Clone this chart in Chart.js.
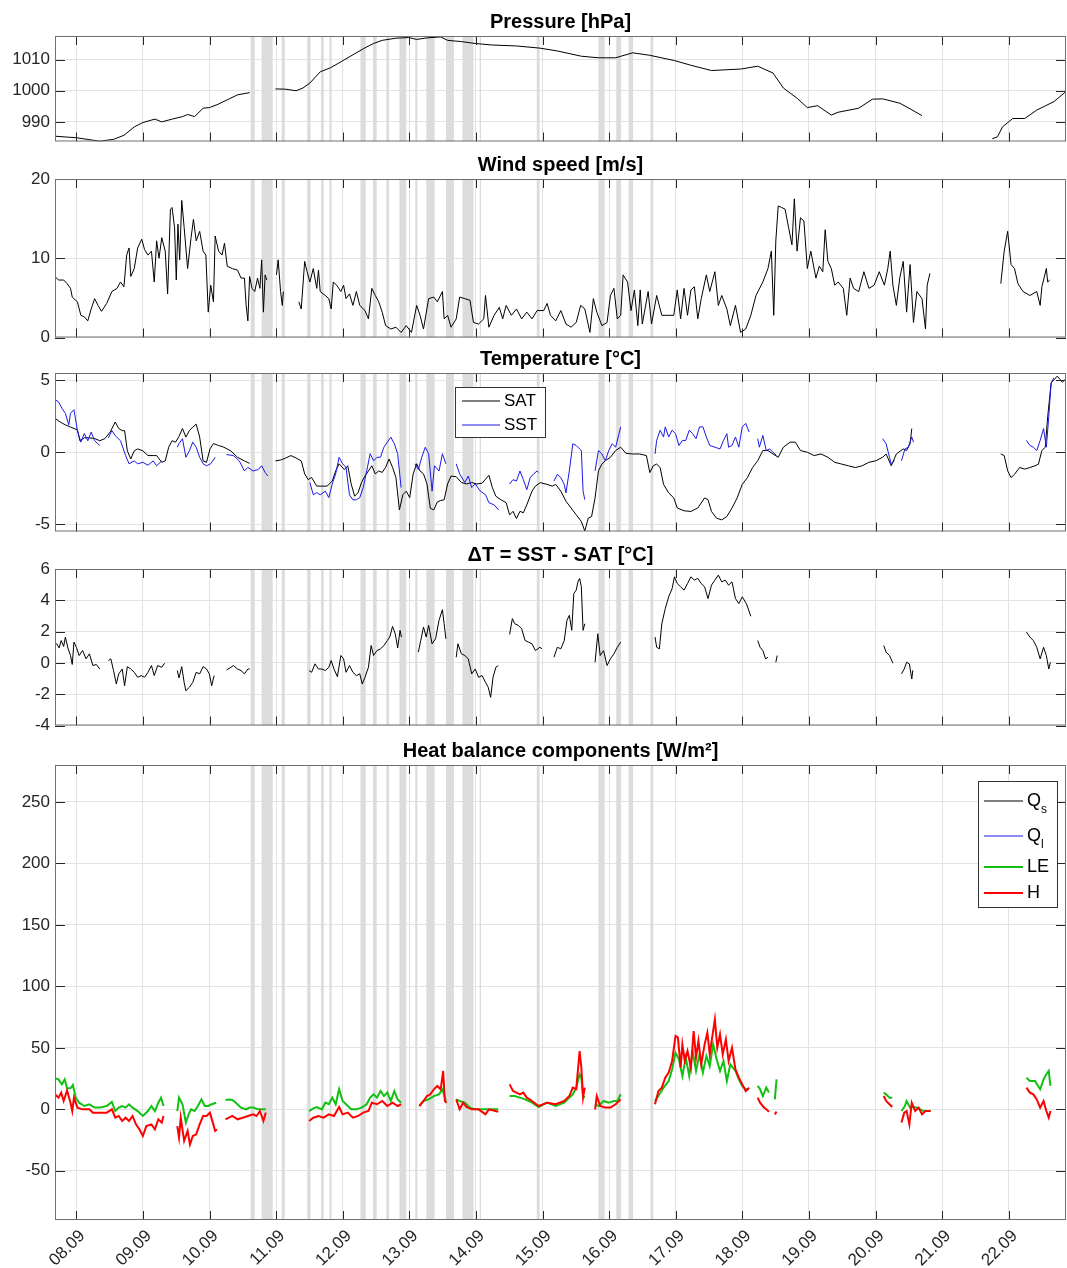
<!DOCTYPE html>
<html>
<head>
<meta charset="utf-8">
<script src="https://cdn.jsdelivr.net/npm/chart.js@4.4.1/dist/chart.umd.min.js"></script>
<style>
  body { margin: 0; background: #fff; width: 1067px; height: 1268px; position: relative; overflow: hidden; }
  canvas { position: absolute; left: 0; }
</style>
</head>
<body>
<canvas id="pressureChart"></canvas>
<canvas id="windChart"></canvas>
<canvas id="tempChart"></canvas>
<canvas id="deltaChart"></canvas>
<canvas id="heatChart"></canvas>
<script>
// time axis: days since 08.09 00:00
var dayLabels = ['08.09','09.09','10.09','11.09','12.09','13.09','14.09','15.09','16.09','17.09','18.09','19.09','20.09','21.09','22.09'];
var xMin = -0.321, xMax = 14.859;

// grey periods [start, end] in days
var bands = [[2.617,2.679],[2.782,2.947],[3.083,3.129],[3.465,3.517],[3.673,3.713],[3.8,3.832],[4.266,4.344],[4.453,4.509],[4.655,4.695],[4.85,4.953],[5.089,5.12],[5.254,5.378],[5.55,5.668],[5.797,5.962],[6.056,6.075],[6.913,6.955],[7.839,7.932],[8.106,8.179],[8.291,8.359],[8.62,8.662]];

var pressureTicks = [990, 1000, 1010];
var windTicks = [0, 10, 20];
var tempTicks = [-5, 0, 5];
var deltaTicks = [-4, -2, 0, 2, 4, 6];
var heatTicks = [-50, 0, 50, 100, 150, 200, 250];

var pressure = [[-0.32,985.4],[0,984.9],[0.35,983.8],[0.56,984.4],[0.715,985.7],[0.87,988.4],[1.0,989.8],[1.18,990.9],[1.28,990.0],[1.44,990.9],[1.593,991.7],[1.671,992.4],[1.774,991.7],[1.904,994.4],[1.997,994.6],[2.11,995.5],[2.266,997.1],[2.421,998.7],[2.602,999.4],[2.8,null],[2.99,1000.6],[3.145,1000.5],[3.3,1000.0],[3.403,1000.9],[3.507,1002.5],[3.662,1006.1],[3.817,1007.4],[3.987,1009.5],[4.179,1011.9],[4.334,1013.8],[4.463,1015.2],[4.592,1016.2],[4.799,1016.9],[4.99,1017.1],[5.11,1016.5],[5.265,1017.0],[5.471,1017.3],[5.575,1016.2],[5.782,1015.8],[5.988,1015.2],[6.247,1014.7],[6.609,1014.4],[6.96,1013.7],[7.22,1012.8],[7.582,1011.1],[7.839,1010.6],[8.096,1010.6],[8.353,1012.2],[8.61,1011.4],[8.98,1009.7],[9.227,1008.2],[9.536,1006.5],[9.983,1007.0],[10.23,1007.9],[10.46,1005.7],[10.615,1000.9],[10.821,997.6],[10.975,994.6],[11.13,995.2],[11.335,992.2],[11.438,993.1],[11.747,994.4],[11.952,997.3],[12.107,997.4],[12.364,996.0],[12.518,994.2],[12.698,992.0],[13.2,null],[13.752,984.6],[13.83,985.2],[13.906,988.4],[14.06,991.1],[14.24,991.1],[14.42,993.8],[14.677,996.5],[14.873,1000.0]];

var windSpeed = [[-0.321,7.7],[-0.269,7.25],[-0.191,7.25],[-0.14,6.8],[-0.088,6.2],[-0.062,5.1],[0.016,4.5],[0.067,2.8],[0.119,2.6],[0.171,2.1],[0.222,3.6],[0.274,4.9],[0.326,4.05],[0.377,3.3],[0.455,4.3],[0.533,5.8],[0.61,6.2],[0.662,7.0],[0.714,6.4],[0.755,10.4],[0.791,11.3],[0.817,7.7],[0.869,8.7],[0.92,11.3],[0.982,12.4],[1.024,11.1],[1.075,10.4],[1.127,10.9],[1.169,7.0],[1.205,12.2],[1.241,10.0],[1.282,12.6],[1.334,10.9],[1.37,5.5],[1.412,16.2],[1.437,16.4],[1.474,13.9],[1.5,7.25],[1.525,14.3],[1.551,9.8],[1.582,17.3],[1.618,13.9],[1.67,8.7],[1.722,12.6],[1.758,14.9],[1.799,12.2],[1.851,13.4],[1.903,10.9],[1.944,10.4],[1.98,3.2],[2.017,6.6],[2.058,4.5],[2.084,12.8],[2.135,10.9],[2.187,10.4],[2.224,11.9],[2.265,9.0],[2.342,8.7],[2.42,8.5],[2.472,7.5],[2.523,7.5],[2.549,4.05],[2.575,2.1],[2.601,7.7],[2.637,6.2],[2.678,5.8],[2.72,7.5],[2.756,6.2],[2.782,9.8],[2.808,3.2],[2.834,7.9],[2.859,7.25],[2.93,null],[3.004,7.9],[3.03,9.8],[3.066,5.8],[3.092,4.05],[3.108,5.8],[3.2,null],[3.34,4.5],[3.376,3.6],[3.428,9.6],[3.464,8.3],[3.506,7.0],[3.557,8.7],[3.609,6.2],[3.635,8.5],[3.661,5.8],[3.738,5.3],[3.79,4.9],[3.826,3.6],[3.857,7.0],[3.909,6.6],[3.971,5.8],[4.012,6.6],[4.049,4.9],[4.1,5.5],[4.152,4.05],[4.204,5.8],[4.255,4.05],[4.333,3.4],[4.385,2.35],[4.436,6.2],[4.488,5.3],[4.54,4.5],[4.592,3.2],[4.643,1.5],[4.721,1.07],[4.798,1.3],[4.876,0.64],[4.953,1.5],[5.031,0.64],[5.109,4.05],[5.16,2.8],[5.212,1.07],[5.289,4.9],[5.367,5.1],[5.419,4.5],[5.496,5.8],[5.522,2.35],[5.574,2.8],[5.626,1.3],[5.703,2.35],[5.755,5.1],[5.833,4.9],[5.91,4.7],[5.962,1.9],[6.039,1.7],[6.117,2.35],[6.143,5.3],[6.194,1.3],[6.272,2.8],[6.35,3.8],[6.401,2.35],[6.453,4.05],[6.531,2.8],[6.608,3.6],[6.686,2.35],[6.763,3.2],[6.841,2.35],[6.918,3.4],[7.017,3.4],[7.068,4.3],[7.119,2.8],[7.197,2.1],[7.274,3.4],[7.351,1.7],[7.428,1.3],[7.505,1.9],[7.572,4.05],[7.634,3.6],[7.711,0.64],[7.762,4.9],[7.814,3.2],[7.891,1.5],[7.968,1.9],[8.019,5.3],[8.071,6.2],[8.122,2.35],[8.173,2.8],[8.209,7.9],[8.276,7.0],[8.328,3.4],[8.379,6.0],[8.43,1.5],[8.466,6.0],[8.497,1.7],[8.585,5.8],[8.636,1.7],[8.713,5.3],[8.79,2.8],[8.867,2.8],[8.97,2.8],[9.022,6.0],[9.073,2.35],[9.124,6.2],[9.176,2.8],[9.227,6.0],[9.279,6.4],[9.33,2.35],[9.382,4.9],[9.459,7.9],[9.51,5.8],[9.587,8.3],[9.639,4.05],[9.69,5.3],[9.767,3.6],[9.819,1.5],[9.896,4.05],[9.973,0.64],[10.05,1.07],[10.127,2.8],[10.204,5.3],[10.307,7.0],[10.384,8.7],[10.435,10.9],[10.471,2.8],[10.502,12.2],[10.538,16.6],[10.59,16.4],[10.641,16.2],[10.693,13.9],[10.744,11.7],[10.78,17.5],[10.821,10.9],[10.872,15.1],[10.924,14.7],[10.975,8.7],[11.027,10.9],[11.104,7.5],[11.155,9.0],[11.207,8.3],[11.243,13.6],[11.284,9.6],[11.335,8.7],[11.387,6.6],[11.438,7.0],[11.515,6.2],[11.567,2.8],[11.618,7.5],[11.669,6.2],[11.747,5.8],[11.824,8.3],[11.9,6.2],[11.978,6.6],[12.055,8.3],[12.132,6.6],[12.183,8.7],[12.219,10.9],[12.26,6.6],[12.312,4.05],[12.363,7.5],[12.415,9.6],[12.466,3.2],[12.518,9.2],[12.569,1.9],[12.62,5.8],[12.697,4.9],[12.749,1.07],[12.775,6.6],[12.816,8.1],[13.3,null],[13.88,6.8],[13.931,10.9],[13.983,13.4],[14.034,9.2],[14.086,8.7],[14.137,6.8],[14.214,5.8],[14.317,5.3],[14.42,5.8],[14.471,4.05],[14.497,6.4],[14.564,8.7],[14.584,7.0],[14.615,7.25]];

var sat = [[-0.321,2.35],[-0.243,2.1],[-0.165,1.9],[-0.088,1.75],[-0.036,1.65],[0.016,1.55],[0.052,0.8],[0.119,1.0],[0.196,1.0],[0.274,0.95],[0.352,0.8],[0.429,0.95],[0.507,1.4],[0.584,2.1],[0.636,1.65],[0.688,1.5],[0.724,1.5],[0.765,0.1],[0.817,-0.47],[0.869,0.1],[0.92,0.23],[0.998,0.1],[1.075,-0.23],[1.153,-0.23],[1.205,-0.23],[1.282,-0.7],[1.334,-0.6],[1.386,0.35],[1.437,0.8],[1.489,0.7],[1.541,1.1],[1.593,1.65],[1.644,1.05],[1.696,1.5],[1.748,1.75],[1.799,1.95],[1.851,1.05],[1.903,-0.6],[1.954,-0.7],[2.006,0.23],[2.058,0.6],[2.135,0.47],[2.213,0.35],[2.316,0.1],[2.42,-0.35],[2.523,-0.6],[2.601,-0.77],[2.8,null],[2.989,-0.6],[3.066,-0.54],[3.144,-0.4],[3.221,-0.23],[3.299,-0.4],[3.376,-0.6],[3.428,-1.5],[3.48,-1.9],[3.532,-1.75],[3.609,-2.35],[3.687,-2.35],[3.764,-2.35],[3.842,-2.0],[3.893,-1.3],[3.945,-0.8],[4.023,-1.2],[4.075,-0.94],[4.126,-2.2],[4.178,-3.05],[4.23,-2.8],[4.281,-2.1],[4.333,-1.65],[4.385,-1.3],[4.436,-0.94],[4.488,-1.5],[4.54,-1.3],[4.592,-1.4],[4.643,-1.05],[4.695,-0.47],[4.747,-1.05],[4.798,-1.75],[4.85,-4.0],[4.902,-2.95],[4.953,-2.7],[5.005,-3.15],[5.057,-1.5],[5.109,-0.8],[5.16,-1.3],[5.212,-1.5],[5.264,-2.2],[5.315,-3.9],[5.367,-4.0],[5.419,-3.45],[5.47,-3.35],[5.522,-3.3],[5.574,-2.2],[5.626,-1.65],[5.703,-1.7],[5.781,-2.1],[5.858,-2.2],[5.936,-2.1],[6.013,-2.2],[6.091,-2.15],[6.194,-1.6],[6.246,-2.45],[6.298,-3.05],[6.375,-3.3],[6.453,-3.5],[6.505,-4.35],[6.556,-4.1],[6.608,-4.6],[6.66,-4.1],[6.711,-4.2],[6.763,-3.65],[6.841,-2.7],[6.892,-2.35],[6.965,-2.11],[7.068,-2.23],[7.145,-2.35],[7.197,-2.23],[7.274,-2.7],[7.351,-3.4],[7.428,-3.87],[7.505,-4.34],[7.582,-4.81],[7.634,-5.47],[7.685,-4.58],[7.736,-4.46],[7.788,-3.17],[7.839,-1.29],[7.891,-0.82],[7.942,-0.59],[8.019,-0.35],[8.096,0.12],[8.173,0.35],[8.25,-0.07],[8.353,-0.12],[8.456,-0.12],[8.559,-0.23],[8.61,-1.41],[8.662,-0.94],[8.713,-0.82],[8.765,-1.06],[8.816,-2.23],[8.893,-2.82],[8.97,-3.17],[9.022,-3.87],[9.124,-4.06],[9.227,-4.11],[9.33,-3.87],[9.433,-3.17],[9.484,-3.29],[9.536,-4.11],[9.613,-4.58],[9.69,-4.69],[9.767,-4.46],[9.844,-3.87],[9.921,-3.17],[9.998,-2.23],[10.076,-1.76],[10.153,-1.06],[10.23,-0.59],[10.307,0.12],[10.384,0.12],[10.461,-0.12],[10.538,-0.35],[10.615,0.35],[10.718,0.7],[10.795,0.7],[10.872,0.12],[10.975,0],[11.078,-0.23],[11.181,-0.12],[11.284,-0.35],[11.387,-0.7],[11.489,-0.82],[11.592,-0.94],[11.695,-1.06],[11.798,-0.94],[11.9,-0.7],[12.003,-0.59],[12.106,-0.35],[12.158,-0.12],[12.235,-0.94],[12.312,-0.12],[12.415,0.23],[12.466,0.12],[12.518,0.59],[12.543,1.64],[13.2,null],[13.88,-0.12],[13.931,-0.23],[13.983,-1.29],[14.034,-1.76],[14.086,-1.53],[14.163,-1.06],[14.24,-1.17],[14.317,-1.06],[14.394,-0.94],[14.445,-0.82],[14.497,0.12],[14.548,0.35],[14.584,2.46],[14.636,4.81],[14.728,5.28],[14.805,4.86],[14.872,5.16]];

var sst = [[-0.321,3.65],[-0.269,3.5],[-0.217,3.05],[-0.165,2.7],[-0.114,1.9],[-0.088,2.7],[-0.036,2.95],[0.016,1.5],[0.067,0.7],[0.119,1.3],[0.171,0.8],[0.222,1.4],[0.274,0.8],[0.352,0.47],[0.42,null],[0.481,1.0],[0.533,1.5],[0.584,1.15],[0.662,0.8],[0.739,-0.23],[0.791,-0.8],[0.869,-0.6],[0.92,-0.8],[0.998,-0.7],[1.075,-0.9],[1.153,-0.6],[1.205,-0.94],[1.282,-0.6],[1.4,null],[1.515,0.35],[1.541,0.6],[1.593,0.94],[1.644,-0.35],[1.696,0.1],[1.748,0.7],[1.799,0.35],[1.851,-0.35],[1.903,-0.8],[1.954,-0.94],[2.017,-0.8],[2.084,-0.35],[2.17,null],[2.254,-0.16],[2.358,-0.23],[2.446,-0.6],[2.523,-1.3],[2.575,-1.05],[2.653,-1.3],[2.73,-1.2],[2.782,-0.94],[2.834,-1.4],[2.875,-1.65],[3.2,null],[3.506,-2.1],[3.557,-2.95],[3.609,-2.8],[3.661,-2.95],[3.738,-2.7],[3.79,-3.15],[3.842,-2.2],[3.893,-1.5],[3.945,-0.35],[3.997,-0.8],[4.049,-1.05],[4.1,-2.95],[4.152,-3.3],[4.204,-3.3],[4.255,-3.15],[4.307,-2.45],[4.359,-1.3],[4.411,-0.1],[4.462,-0.6],[4.514,-0.35],[4.566,-0.35],[4.617,0.35],[4.669,0.7],[4.721,1.05],[4.773,0.6],[4.824,-0.1],[4.876,-2.45],[4.98,null],[5.083,-0.8],[5.134,-1.2],[5.186,-0.35],[5.238,0.35],[5.289,-0.1],[5.341,-2.7],[5.377,-0.94],[5.445,-1.3],[5.496,-0.1],[5.548,-0.8],[5.64,null],[5.703,-0.8],[5.755,-1.5],[5.833,-2.1],[5.884,-1.65],[5.936,-2.45],[5.988,-2.2],[6.065,-2.7],[6.143,-2.95],[6.194,-3.5],[6.272,-3.65],[6.339,-4.0],[6.42,null],[6.505,-2.2],[6.556,-1.9],[6.608,-2.0],[6.66,-1.3],[6.711,-1.9],[6.763,-2.6],[6.815,-1.75],[6.866,-1.5],[6.918,-1.3],[6.94,-1.4],[6.99,null],[7.171,-2.0],[7.222,-1.53],[7.274,-1.76],[7.325,-2.23],[7.351,-2.82],[7.402,-1.29],[7.454,0.59],[7.505,0.47],[7.556,0.23],[7.582,0.12],[7.608,-2.7],[7.634,-3.29],[7.71,null],[7.788,-1.29],[7.839,0.12],[7.891,-0.12],[7.942,-0.59],[7.993,0.12],[8.045,0.59],[8.096,0.35],[8.148,1.29],[8.173,1.76],[8.4,null],[8.688,-0.12],[8.713,0.82],[8.765,1.53],[8.816,1.06],[8.842,1.76],[8.893,1.06],[8.945,1.53],[8.996,1.29],[9.047,0.47],[9.099,0.82],[9.15,0.82],[9.202,1.53],[9.253,1.29],[9.304,0.94],[9.356,1.76],[9.407,1.76],[9.459,1.06],[9.51,0.47],[9.587,0.35],[9.664,0.23],[9.716,0.82],[9.767,1.29],[9.793,0.35],[9.844,0.47],[9.896,1.06],[9.947,0.35],[9.998,1.76],[10.05,2.0],[10.101,1.41],[10.17,null],[10.23,0.94],[10.255,0.35],[10.307,1.17],[10.358,0.12],[10.41,0.23],[10.461,0],[10.513,-0.23],[11.5,null],[12.106,0.94],[12.158,0.59],[12.209,-0.35],[12.235,-0.82],[12.286,-0.59],[12.34,null],[12.389,-0.59],[12.44,0.23],[12.492,0.35],[12.543,1.06],[12.569,0.7],[13.2,null],[14.265,0.82],[14.317,0.47],[14.368,0.35],[14.42,0.12],[14.471,0.82],[14.522,1.64],[14.564,0.35],[14.6,2.46],[14.636,4.81],[14.677,5.16]];

var deltaT = [[-0.321,1.22],[-0.295,1.22],[-0.259,0.96],[-0.228,1.43],[-0.191,1.05],[-0.165,1.65],[-0.124,0.9],[-0.088,0.47],[-0.062,-0.1],[-0.036,1.33],[0,1.0],[0.041,0.47],[0.093,0.79],[0.145,0.26],[0.196,0.58],[0.248,-0.17],[0.3,-0.1],[0.352,-0.39],[0.42,null],[0.481,0.15],[0.517,0.26],[0.558,-0.49],[0.6,-1.35],[0.636,-0.7],[0.688,-0.39],[0.724,-1.46],[0.765,-0.24],[0.817,-0.39],[0.869,-0.6],[0.92,-0.92],[0.972,-0.81],[1.024,-0.92],[1.075,-0.6],[1.127,-0.17],[1.169,-0.81],[1.22,-0.17],[1.282,-0.28],[1.324,-0.02],[1.42,null],[1.515,-0.49],[1.541,-0.96],[1.582,-0.24],[1.618,-1.24],[1.644,-1.78],[1.696,-1.56],[1.748,-1.24],[1.799,-0.6],[1.851,-0.7],[1.903,-0.24],[1.954,-0.39],[1.996,-0.7],[2.032,-1.46],[2.068,-0.81],[2.16,null],[2.254,-0.45],[2.306,-0.32],[2.358,-0.17],[2.42,-0.39],[2.472,-0.49],[2.523,-0.7],[2.575,-0.39],[2.601,-0.39],[3.0,null],[3.495,-0.49],[3.532,-0.6],[3.583,-0.06],[3.635,-0.39],[3.687,-0.39],[3.738,-0.49],[3.79,-0.28],[3.826,0.15],[3.868,-0.39],[3.919,-0.88],[3.971,0.47],[4.012,0.26],[4.049,-0.6],[4.1,-0.17],[4.152,-0.6],[4.204,-0.81],[4.255,-0.7],[4.292,-1.35],[4.333,-0.92],[4.385,-0.28],[4.426,1.11],[4.462,0.47],[4.514,0.79],[4.566,0.9],[4.617,1.11],[4.669,1.43],[4.705,1.65],[4.747,2.33],[4.788,1.86],[4.824,0.96],[4.86,2.08],[4.881,1.65],[5.0,null],[5.134,0.69],[5.171,1.43],[5.212,2.29],[5.253,1.65],[5.289,2.4],[5.341,1.22],[5.393,1.54],[5.445,2.72],[5.496,3.4],[5.522,2.5],[5.548,1.54],[5.64,null],[5.703,0.36],[5.729,1.22],[5.781,0.58],[5.833,0.47],[5.884,0.26],[5.936,-0.7],[5.988,-0.39],[6.039,-0.92],[6.091,-0.81],[6.143,-1.24],[6.184,-1.56],[6.22,-2.2],[6.256,-0.92],[6.298,-0.28],[6.334,-0.17],[6.42,null],[6.505,1.82],[6.546,2.83],[6.582,2.5],[6.634,2.4],[6.686,2.18],[6.737,1.43],[6.789,1.33],[6.841,1.22],[6.892,0.79],[6.96,1.0],[6.99,0.9],[7.08,null],[7.171,0.36],[7.222,1.0],[7.274,0.9],[7.325,1.43],[7.366,2.72],[7.402,3.04],[7.438,2.08],[7.469,4.43],[7.505,4.65],[7.531,5.18],[7.556,5.4],[7.582,4.86],[7.608,2.08],[7.634,2.5],[7.71,null],[7.788,0.04],[7.829,1.86],[7.865,0.47],[7.916,0.79],[7.968,-0.17],[8.019,0.26],[8.071,0.58],[8.122,1.0],[8.173,1.33],[8.4,null],[8.688,1.65],[8.713,1.0],[8.754,0.9],[8.79,2.5],[8.842,3.47],[8.893,4.22],[8.945,4.75],[8.98,5.5],[9.022,5.07],[9.073,4.86],[9.124,4.65],[9.176,5.07],[9.227,5.5],[9.279,5.29],[9.33,5.4],[9.382,5.07],[9.433,4.86],[9.484,4.11],[9.536,4.97],[9.587,5.29],[9.639,5.61],[9.69,5.18],[9.741,5.29],[9.793,4.97],[9.844,5.18],[9.896,4.11],[9.947,3.79],[9.998,4.22],[10.06,3.79],[10.127,2.98],[10.18,null],[10.23,1.43],[10.266,1.0],[10.307,0.79],[10.348,0.26],[10.384,0.36],[10.45,null],[10.502,0.04],[10.523,0.47],[11.5,null],[12.122,1.11],[12.158,0.69],[12.209,0.47],[12.26,-0.02],[12.33,null],[12.389,-0.7],[12.43,-0.39],[12.466,0.04],[12.507,-0.06],[12.543,-1.03],[12.559,-0.47],[13.2,null],[14.265,1.97],[14.317,1.65],[14.368,1.43],[14.42,1.0],[14.471,0.26],[14.522,1.0],[14.564,0.47],[14.6,-0.39],[14.625,0.04]];

var qs = [];
var ql = [];

var le = [[-0.321,25.2],[-0.269,24.4],[-0.217,20.3],[-0.176,24.4],[-0.14,17.1],[-0.088,17.1],[-0.052,19.8],[-0.01,9.5],[0.041,5.4],[0.119,2.7],[0.196,4.1],[0.274,1.4],[0.352,1.4],[0.455,2.7],[0.533,6.0],[0.584,-1.4],[0.636,1.4],[0.688,2.7],[0.739,1.4],[0.791,4.1],[0.843,1.4],[0.92,-1.4],[0.998,-5.4],[1.075,-1.4],[1.127,2.7],[1.179,-1.4],[1.231,5.4],[1.272,9.5],[1.308,2.7],[1.4,null],[1.515,-1.4],[1.541,9.5],[1.593,4.1],[1.644,-10.8],[1.686,-4.1],[1.722,0],[1.774,-1.4],[1.825,2.7],[1.877,8.1],[1.929,2.7],[1.98,2.7],[2.032,4.1],[2.099,5.4],[2.17,null],[2.239,7.6],[2.291,7.9],[2.342,7.6],[2.394,5.4],[2.472,1.4],[2.549,0],[2.601,1.4],[2.653,1.4],[2.73,0],[2.844,0],[3.2,null],[3.495,-1.4],[3.557,0.8],[3.609,1.9],[3.687,0],[3.738,5.4],[3.79,4.1],[3.842,9.5],[3.893,4.1],[3.945,16.3],[3.997,6.8],[4.049,4.1],[4.126,0],[4.204,0],[4.281,1.4],[4.359,4.1],[4.411,9.5],[4.462,12.2],[4.514,9.5],[4.566,14.9],[4.617,10.8],[4.669,13.6],[4.721,6.8],[4.773,14.9],[4.824,8.1],[4.876,5.4],[5.0,null],[5.15,2.7],[5.212,6.8],[5.289,8.1],[5.367,10.8],[5.445,12.2],[5.496,16.3],[5.548,6.8],[5.64,null],[5.703,8.1],[5.755,6.8],[5.833,5.4],[5.91,1.4],[5.988,0],[6.091,0],[6.194,0],[6.334,0],[6.42,null],[6.505,10.8],[6.582,10.8],[6.66,9.5],[6.737,8.1],[6.841,5.4],[6.94,1.9],[7.068,5.4],[7.197,2.7],[7.325,5.4],[7.402,9.5],[7.454,12.2],[7.505,17.6],[7.556,28.5],[7.582,25.7],[7.608,10.8],[7.634,9.5],[7.71,null],[7.788,4.1],[7.839,2.7],[7.916,6.8],[7.993,5.4],[8.071,6.8],[8.122,6.8],[8.173,12.2],[8.4,null],[8.688,6.8],[8.739,10.8],[8.816,17.6],[8.893,23],[8.945,32.5],[8.996,46],[9.047,40.7],[9.099,27.1],[9.15,42],[9.202,27.1],[9.253,47.4],[9.304,31.2],[9.356,44.7],[9.407,29.8],[9.459,43.4],[9.51,35.2],[9.561,52.8],[9.613,40.7],[9.664,31.2],[9.716,39.3],[9.767,23],[9.819,36.6],[9.896,31.2],[9.947,24.4],[9.998,19],[10.05,16.3],[10.101,16.3],[10.17,null],[10.23,19],[10.266,16.3],[10.307,10.8],[10.358,17.6],[10.399,13.6],[10.45,null],[10.487,8.1],[10.513,24.4],[11.5,null],[12.122,13.6],[12.158,12.2],[12.209,9.5],[12.25,9.5],[12.32,null],[12.389,-1.4],[12.44,2.7],[12.466,6.8],[12.518,1.4],[12.569,1.9],[12.62,1.4],[12.723,-1.4],[12.826,-1.4],[13.2,null],[14.265,25.7],[14.317,23],[14.394,23],[14.471,16.3],[14.522,24.4],[14.564,28.5],[14.6,31.2],[14.625,19]];

var sensible = [[-0.321,12.2],[-0.269,9.5],[-0.228,13.6],[-0.191,6.8],[-0.14,15.4],[-0.088,5.4],[-0.062,-1.4],[-0.036,9.5],[0.016,1.4],[0.093,0],[0.196,0],[0.248,-2.7],[0.352,-2.7],[0.455,-2.7],[0.533,0],[0.584,-6.8],[0.636,-5.4],[0.688,-9.5],[0.739,-6.8],[0.791,-9.5],[0.843,-5.4],[0.895,-12.2],[0.946,-16.3],[0.998,-21.7],[1.05,-13.6],[1.127,-12.2],[1.179,-16.3],[1.231,-8.1],[1.282,-10.8],[1.308,-5.4],[1.4,null],[1.515,-13.6],[1.541,-23],[1.567,-6.8],[1.618,-25.7],[1.67,-17.6],[1.706,-28.5],[1.748,-21.7],[1.799,-20.3],[1.851,-12.2],[1.903,-5.4],[1.954,-5.4],[2.006,-2.7],[2.048,-10.8],[2.084,-17.6],[2.11,-16.3],[2.17,null],[2.239,-8.1],[2.291,-6.8],[2.342,-5.4],[2.42,-8.1],[2.497,-6.8],[2.575,-5.4],[2.653,-4.1],[2.704,-5.4],[2.756,-1.4],[2.808,-9.5],[2.844,-2.7],[3.2,null],[3.495,-9.5],[3.557,-6.8],[3.635,-5.4],[3.713,-6.8],[3.79,-4.1],[3.868,-5.4],[3.945,1.9],[3.997,-4.1],[4.075,-2.7],[4.152,-6.8],[4.23,-5.4],[4.307,-2.7],[4.385,-1.4],[4.436,5.4],[4.514,4.1],[4.592,6.8],[4.669,2.7],[4.747,5.4],[4.824,2.7],[4.876,4.1],[5.0,null],[5.15,2.7],[5.212,6.8],[5.264,10.8],[5.315,12.2],[5.367,16.3],[5.419,19],[5.47,16.3],[5.507,31.2],[5.533,6.8],[5.558,5.4],[5.64,null],[5.703,8.1],[5.755,0],[5.807,5.4],[5.858,1.9],[5.936,0],[6.039,0],[6.143,-4.1],[6.194,0],[6.334,-1.9],[6.42,null],[6.505,20.3],[6.556,14.9],[6.608,13.6],[6.66,12.2],[6.711,13.6],[6.763,9.5],[6.841,6.8],[6.94,2.7],[7.068,5.4],[7.197,4.1],[7.325,6.8],[7.402,10.8],[7.454,17.6],[7.505,16.3],[7.556,47.4],[7.582,33.9],[7.608,9.5],[7.634,17.6],[7.71,null],[7.788,0],[7.814,10.8],[7.865,2.7],[7.942,1.4],[8.019,1.4],[8.096,4.1],[8.173,8.1],[8.4,null],[8.688,4.1],[8.739,14.9],[8.79,17.6],[8.842,25.7],[8.893,29.8],[8.945,39.3],[8.996,59.6],[9.032,58.3],[9.073,33.9],[9.099,52.8],[9.135,39.3],[9.176,47.4],[9.227,33.9],[9.268,63.7],[9.304,42],[9.34,55.6],[9.382,36.6],[9.433,52.8],[9.474,62.3],[9.51,44.7],[9.546,58.3],[9.587,73.2],[9.623,50.1],[9.664,61],[9.705,44.7],[9.752,56.9],[9.793,39.3],[9.844,50.1],[9.896,32.5],[9.947,25.7],[9.998,20.3],[10.05,14.9],[10.101,17.6],[10.17,null],[10.23,9.5],[10.266,5.4],[10.317,1.9],[10.358,0],[10.399,-1.9],[10.45,null],[10.487,-4.1],[10.513,-1.9],[11.5,null],[12.122,10.8],[12.158,6.8],[12.209,4.1],[12.25,1.9],[12.32,null],[12.389,-10.8],[12.43,-2.7],[12.466,-1.4],[12.507,-12.2],[12.543,5.4],[12.595,-1.4],[12.646,1.4],[12.697,-4.1],[12.749,-1.4],[12.826,-1.4],[13.2,null],[14.265,17.6],[14.317,13.6],[14.368,12.2],[14.42,8.1],[14.471,1.4],[14.522,6.8],[14.564,-1.4],[14.6,-6.8],[14.625,-1.4]];

Chart.defaults.font.family = '"Liberation Sans", Arial, sans-serif';
var gridColor = '#e3e3e3';
var axisColor = '#262626';

function toXY(arr) {
  return arr.map(function(p) { return { x: p[0], y: p[1] }; });
}

// grey periods behind the curves
var bandsPlugin = {
  id: 'bands',
  beforeDatasetsDraw: function(chart) {
    var ctx = chart.ctx, a = chart.chartArea, x = chart.scales.x;
    ctx.save();
    ctx.beginPath();
    ctx.rect(a.left, a.top, a.right - a.left, a.bottom - a.top);
    ctx.clip();
    ctx.fillStyle = '#dcdcdc';
    bands.forEach(function(b) {
      var x0 = x.getPixelForValue(b[0]), x1 = x.getPixelForValue(b[1]);
      ctx.fillRect(x0, a.top, Math.max(1, x1 - x0), a.bottom - a.top);
    });
    ctx.restore();
  }
};

// box around the axes with inward tick marks
var framePlugin = {
  id: 'frame',
  afterDatasetsDraw: function(chart) {
    var ctx = chart.ctx, a = chart.chartArea, x = chart.scales.x, y = chart.scales.y;
    ctx.save();
    ctx.strokeStyle = axisColor;
    ctx.lineWidth = 1;
    ctx.beginPath();
    x.ticks.forEach(function(t) {
      var p = Math.round(x.getPixelForValue(t.value)) + 0.5;
      ctx.moveTo(p, a.top); ctx.lineTo(p, a.top + 9);
      ctx.moveTo(p, a.bottom); ctx.lineTo(p, a.bottom - 9);
    });
    y.ticks.forEach(function(t) {
      var p = Math.round(y.getPixelForValue(t.value)) + 0.5;
      ctx.moveTo(a.left, p); ctx.lineTo(a.left + 10, p);
      ctx.moveTo(a.right, p); ctx.lineTo(a.right - 10, p);
    });
    ctx.stroke();
    ctx.strokeStyle = '#707070';
    ctx.strokeRect(a.left + 0.5, a.top + 0.5, a.right - a.left - 1, a.bottom - a.top - 1);
    ctx.restore();
  }
};

// matlab-like boxed legend, labels "Q_s" get a subscript
var boxLegend = {
  id: 'boxLegend',
  afterDraw: function(chart, args, opts) {
    if (!opts || !opts.rows) return;
    var ctx = chart.ctx, a = chart.chartArea;
    var x0 = opts.right != null ? a.right - opts.right - opts.width : a.left + opts.left;
    var y0 = a.top + opts.top;
    ctx.save();
    ctx.fillStyle = '#fff';
    ctx.fillRect(x0, y0, opts.width, opts.height);
    ctx.strokeStyle = '#333';
    ctx.lineWidth = 1;
    ctx.strokeRect(Math.round(x0) + 0.5, Math.round(y0) + 0.5, opts.width, opts.height);
    ctx.textBaseline = 'middle';
    chart.data.datasets.forEach(function(ds, i) {
      var y = y0 + opts.rows[i];
      ctx.strokeStyle = ds.borderColor;
      ctx.lineWidth = ds.borderWidth;
      ctx.beginPath();
      ctx.moveTo(x0 + opts.lineFrom, y);
      ctx.lineTo(x0 + opts.lineTo, y);
      ctx.stroke();
      var parts = ds.label.split('_');
      ctx.fillStyle = '#000';
      ctx.font = opts.font;
      ctx.fillText(parts[0], x0 + opts.textX, y);
      if (parts[1]) {
        var w = ctx.measureText(parts[0]).width;
        ctx.font = opts.subFont;
        ctx.fillText(parts[1], x0 + opts.textX + w, y + 9);
      }
    });
    ctx.restore();
  }
};

function panel(id, top, height, opt) {
  var cv = document.getElementById(id);
  cv.width = 1067;
  cv.height = height;
  cv.style.top = top + 'px';
  return new Chart(cv, {
    type: 'line',
    data: { datasets: opt.datasets },
    options: {
      responsive: false,
      animation: false,
      devicePixelRatio: 1,
      spanGaps: false,
      layout: { padding: { left: 0, right: 1, top: 0, bottom: opt.xLabels ? 0 : 10 } },
      elements: { point: { radius: 0 }, line: { tension: 0 } },
      plugins: {
        legend: { display: false },
        tooltip: { enabled: false },
        title: {
          display: true, text: opt.title, color: '#000', fullSize: false,
          font: { size: 20, weight: 'bold', lineHeight: 1 },
          padding: { top: 2, bottom: 4 }
        },
        boxLegend: opt.legend || false
      },
      scales: {
        x: {
          type: 'linear', min: xMin, max: xMax,
          afterBuildTicks: function(s) { s.ticks = dayLabels.map(function(_, i) { return { value: i }; }); },
          afterFit: function(s) { s.height = opt.xLabels ? 48 : 0; },
          grid: { color: gridColor, drawTicks: false },
          border: { display: false },
          ticks: {
            display: !!opt.xLabels, autoSkip: false, maxRotation: 45, minRotation: 45,
            padding: 6, labelOffset: 6, color: axisColor, font: { size: 17 },
            callback: function(v) { return dayLabels[v]; }
          }
        },
        y: {
          min: opt.yMin, max: opt.yMax,
          afterBuildTicks: function(s) { s.ticks = opt.yTicks.map(function(v) { return { value: v }; }); },
          afterFit: function(s) { s.width = 55; },
          grid: { color: gridColor, drawTicks: false },
          border: { display: false },
          ticks: { padding: 5, color: axisColor, font: { size: 17, lineHeight: 1 }, callback: function(v) { return String(v); } }
        }
      }
    },
    plugins: [bandsPlugin, framePlugin, boxLegend]
  });
}

function line(label, data, color, width, order) {
  return { label: label, data: toXY(data), borderColor: color, borderWidth: width, order: order, fill: false };
}

panel('pressureChart', 10, 145, {
  title: 'Pressure [hPa]', yMin: 983.7, yMax: 1017.6, yTicks: pressureTicks,
  datasets: [line('Pressure', pressure, '#000', 1, 0)]
});

panel('windChart', 153, 198, {
  title: 'Wind speed [m/s]', yMin: 0, yMax: 20, yTicks: windTicks,
  datasets: [line('Wind', windSpeed, '#000', 1, 0)]
});

panel('tempChart', 347, 198, {
  title: 'Temperature [°C]', yMin: -5.5, yMax: 5.5, yTicks: tempTicks,
  datasets: [line('SAT', sat, '#000', 1, 1), line('SST', sst, '#1a1ae6', 1, 0)],
  legend: { left: 400, top: 14, width: 90, height: 50, rows: [14, 38], lineFrom: 7, lineTo: 45, textX: 49,
            font: '17px "Liberation Sans", Arial, sans-serif', subFont: '12px "Liberation Sans", Arial, sans-serif' }
});

panel('deltaChart', 543, 196, {
  title: 'ΔT = SST - SAT [°C]', yMin: -4, yMax: 6, yTicks: deltaTicks,
  datasets: [line('dT', deltaT, '#000', 1, 0)]
});

panel('heatChart', 739, 529, {
  title: 'Heat balance components [W/m²]', yMin: -90, yMax: 280, yTicks: heatTicks, xLabels: true,
  datasets: [
    line('Q_s', qs, '#000', 1, 3),
    line('Q_l', ql, '#1a1ae6', 1, 2),
    line('LE', le, '#12c012', 2, 1),
    line('H', sensible, '#ff0000', 2, 0)
  ],
  legend: { right: 9, top: 16, width: 79, height: 126, rows: [20, 55, 86, 112], lineFrom: 6, lineTo: 45, textX: 49,
            font: '18px "Liberation Sans", Arial, sans-serif', subFont: '12px "Liberation Sans", Arial, sans-serif' }
});
</script>
</body>
</html>
